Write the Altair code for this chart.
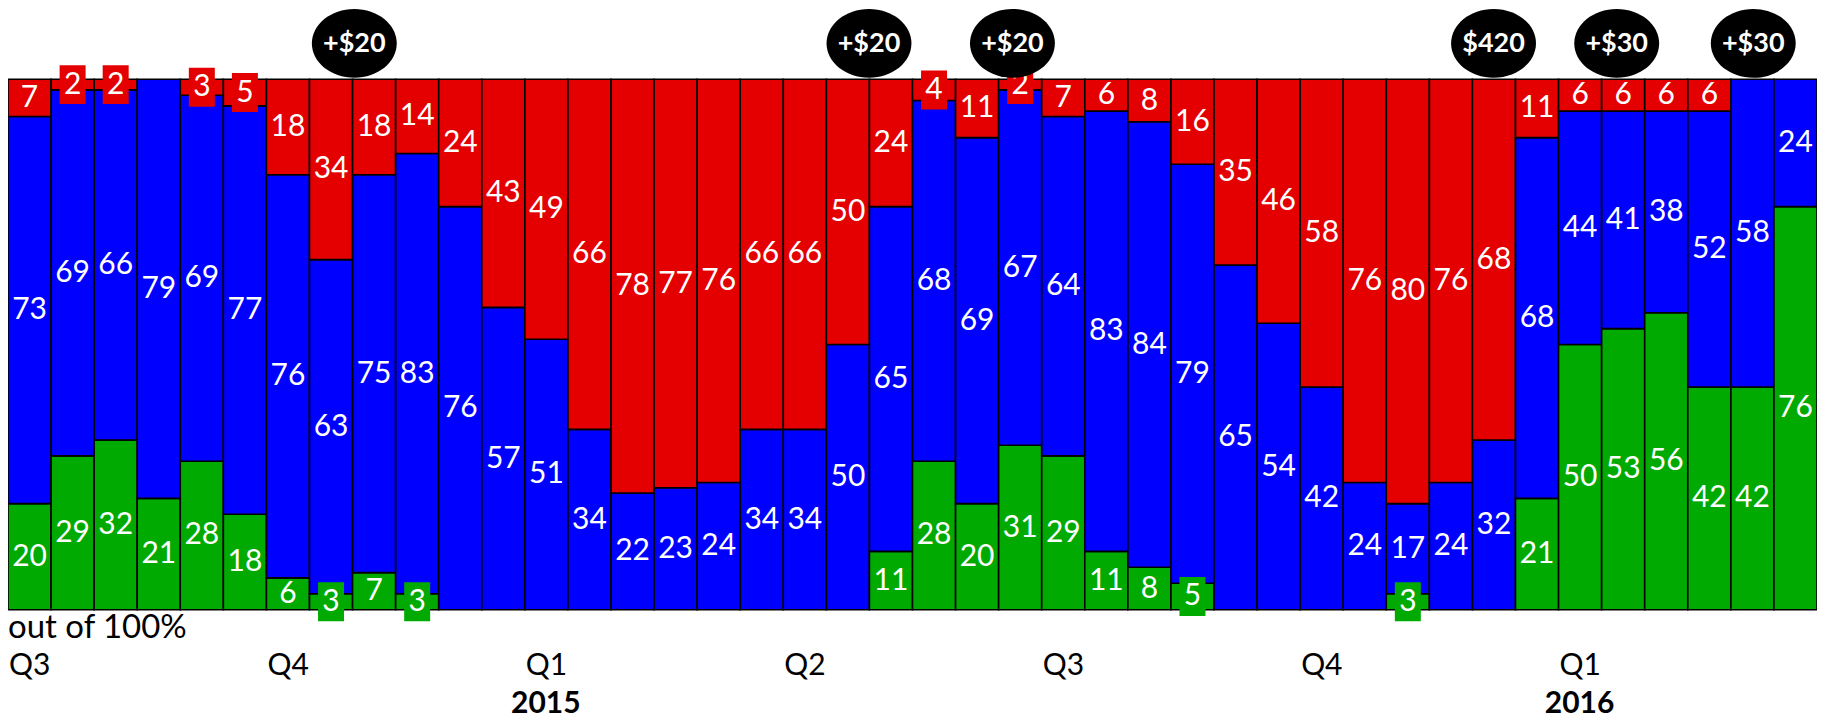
import altair as alt
import pandas as pd

# ---- data ----
red   = [7, 2, 2, 0, 3, 5, 18, 34, 18, 14, 24, 43, 49, 66, 78, 77, 76, 66, 66, 50, 24,
         4, 11, 2, 7, 6, 8, 16, 35, 46, 58, 76, 80, 76, 68, 11, 6, 6, 6, 6, 0, 0]
blue  = [73, 69, 66, 79, 69, 77, 76, 63, 75, 83, 76, 57, 51, 34, 22, 23, 24, 34, 34, 50, 65,
         68, 69, 67, 64, 83, 84, 79, 65, 54, 42, 24, 17, 24, 32, 68, 44, 41, 38, 52, 58, 24]
green = [20, 29, 32, 21, 28, 18, 6, 3, 7, 3, 0, 0, 0, 0, 0, 0, 0, 0, 0, 0, 11,
         28, 20, 31, 29, 11, 8, 5, 0, 0, 0, 0, 3, 0, 0, 21, 50, 53, 56, 42, 42, 76]

quarter_labels = ["Q3", "Q4", "Q1", "Q2", "Q3", "Q4", "Q1"]
quarter_start_bar = [0, 6, 12, 18, 24, 30, 36]
year_labels = ["2015", "2016"]
year_start_bar = [12, 36]
event_labels = ["+$20", "+$20", "+$20", "$420", "+$30", "+$30"]
event_bar_pos = [8.04, 19.99, 23.32, 34.49, 37.35, 40.52]

SERIES = ["green", "blue", "red"]
COLORS = ["#00AA00", "#0000FF", "#E40000"]
N = len(red)

# ---- build tables ----
rows = []
for i in range(N):
    base = 0
    for name, arr in zip(SERIES, [green, blue, red]):
        v = arr[i]
        if v > 0:
            rows.append({"bar": i, "x0": i, "x1": i + 1, "xc": i + 0.5,
                         "series": name, "value": v,
                         "y0": base, "y1": base + v, "yc": base + v / 2})
        base += v
seg = pd.DataFrame(rows)
small = seg[seg["value"] <= 5]

events = pd.DataFrame({"pos": event_bar_pos, "label": event_labels})
quarters = pd.DataFrame({"pos": quarter_start_bar, "label": quarter_labels})
years = pd.DataFrame({"pos": year_start_bar, "label": year_labels})

xs = alt.Scale(domain=[0, N], nice=False, zero=False)
ys = alt.Scale(domain=[0, 100], nice=False)
cs = alt.Scale(domain=SERIES, range=COLORS)
FONT = "Lato"

bars = alt.Chart(seg).mark_rect(stroke="black", strokeWidth=1.6).encode(
    x=alt.X("x0:Q", scale=xs, axis=None),
    x2="x1:Q",
    y=alt.Y("y0:Q", scale=ys, axis=None),
    y2="y1:Q",
    color=alt.Color("series:N", scale=cs, legend=None),
)

rect_path = "M -0.667 -1 L 0.667 -1 L 0.667 1 L -0.667 1 Z"
boxes = alt.Chart(small).mark_point(shape=rect_path, filled=True, size=39 * 39,
                                     opacity=1, strokeWidth=0).encode(
    x=alt.X("xc:Q", scale=xs, axis=None),
    y=alt.Y("yc:Q", scale=ys, axis=None),
    color=alt.Color("series:N", scale=cs, legend=None),
)

labels = alt.Chart(seg).mark_text(font=FONT, fontSize=30, color="white",
                                  align="center", baseline="middle").encode(
    x=alt.X("xc:Q", scale=xs, axis=None),
    y=alt.Y("yc:Q", scale=ys, axis=None),
    text="value:Q",
)

ellipse_path = "M -1 0 A 1 0.812 0 1 1 1 0 A 1 0.812 0 1 1 -1 0 Z"
ellipses = alt.Chart(events).mark_point(shape=ellipse_path, filled=True, color="black",
                                        size=85 * 85, opacity=1, strokeWidth=0).encode(
    x=alt.X("pos:Q", scale=xs, axis=None),
    y=alt.value(-36),
)
event_text = alt.Chart(events).mark_text(font=FONT, fontWeight="bold", fontSize=27,
                                         color="white", align="center",
                                         baseline="middle").encode(
    x=alt.X("pos:Q", scale=xs, axis=None),
    y=alt.value(-35),
    text="label:N",
)

q_text = alt.Chart(quarters).mark_text(font=FONT, fontSize=30, color="black",
                                       align="left", baseline="alphabetic", dx=1).encode(
    x=alt.X("pos:Q", scale=xs, axis=None),
    y=alt.value(596),
    text="label:N",
)
y_text = alt.Chart(years).mark_text(font=FONT, fontSize=30, fontWeight="bold",
                                    color="black", align="center",
                                    baseline="alphabetic", dx=21).encode(
    x=alt.X("pos:Q", scale=xs, axis=None),
    y=alt.value(634),
    text="label:N",
)
unit_text = alt.Chart(pd.DataFrame({"t": ["out of 100%"]})).mark_text(
    font=FONT, fontSize=33, color="black", align="left", baseline="alphabetic"
).encode(x=alt.value(0), y=alt.value(559), text="t:N")

chart = alt.layer(bars, boxes, labels, ellipses, event_text, q_text, y_text, unit_text).properties(
    width=1811, height=531,
    padding={"left": 0, "top": 71, "right": 0, "bottom": 110},
    autosize=alt.AutoSizeParams(type="none"),
).configure_view(strokeWidth=0)

chart.save("out.html", embed_options={"renderer": "svg", "actions": False})
